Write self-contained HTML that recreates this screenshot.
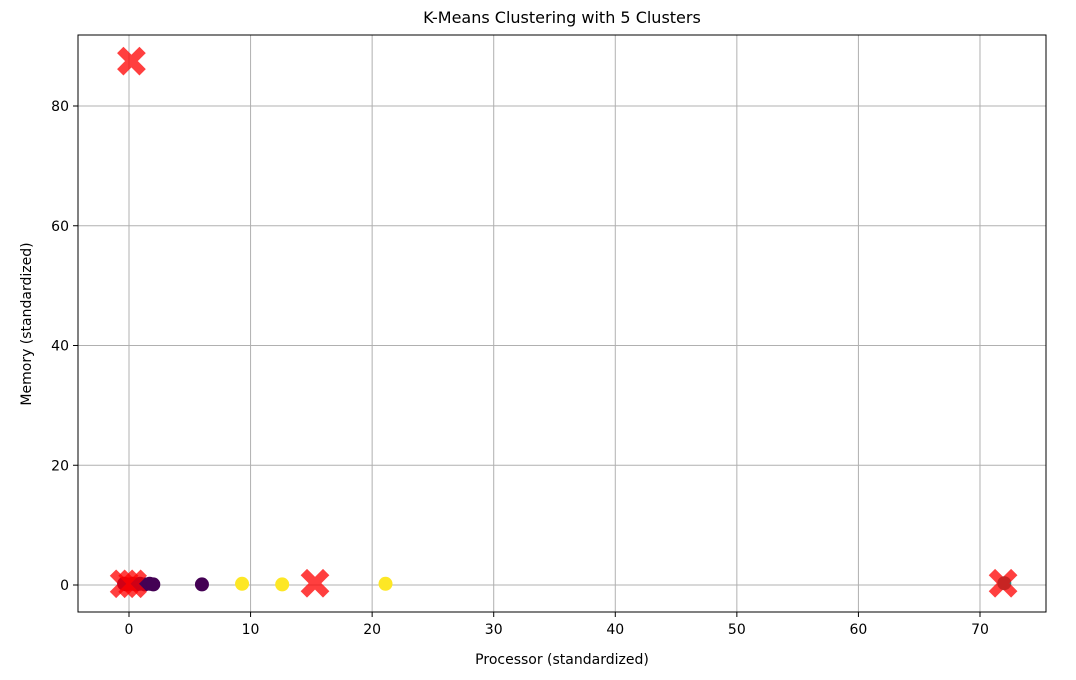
<!DOCTYPE html>
<html><head><meta charset="utf-8"><style>
body{margin:0;background:#fff;font-family:"Liberation Sans","DejaVu Sans",sans-serif;}
svg text{font-family:"DejaVu Sans","Liberation Sans",sans-serif;fill:#000;}
</style></head><body>
<svg id="chart" width="1076" height="675" xmlns="http://www.w3.org/2000/svg">
<text x="562" y="23" font-size="16" text-anchor="middle">K-Means Clustering with 5 Clusters</text>
<text x="562" y="664" font-size="14" text-anchor="middle">Processor (standardized)</text>
<text x="31" y="324" font-size="14" text-anchor="middle" transform="rotate(-90 31 324)">Memory (standardized)</text>
<g id="grid"></g><g id="pts"></g><g id="cents"></g><g id="ticks"></g>
<rect x="78" y="35" width="968" height="577" fill="none" stroke="#000" stroke-width="1"/>
</svg>
<script>
const xTicks=[0,10,20,30,40,50,60,70];
const yTicks=[0,20,40,60,80];
const pointX=[-0.4,-0.2,0.3,0.6,0.9,1.3,1.7,2.0,6.0,9.3,12.6,21.1,72];
const pointY=[0.2,0.1,0.2,0.1,0.2,0.1,0.2,0.1,0.1,0.2,0.1,0.2,0.3];
const pointCluster=[0,0,0,0,0,0,0,0,0,4,4,4,2];
const clusterColors=["#440154","#3b528b","#21918c","#5ec962","#fde725"];
const centroidX=[-0.4,0.3,15.3,71.9,0.2];
const centroidY=[0.2,0.2,0.3,0.3,87.5];
const sx=v=>129+v*12.157, sy=v=>585-v*5.9875;
const NS="http://www.w3.org/2000/svg";
function mk(t,a,p){const e=document.createElementNS(NS,t);for(const k in a)e.setAttribute(k,a[k]);p.appendChild(e);return e;}
const g=document.getElementById('grid'),tk=document.getElementById('ticks');
xTicks.forEach(v=>{const x=sx(v);
 const l=mk('line',{x1:x,x2:x,y1:35,y2:612,stroke:'#b0b0b0','stroke-width':1},g);
 
 
 mk('line',{x1:x,x2:x,y1:612,y2:617,stroke:'#000'},tk);
 const t=mk('text',{x:x,y:634,'font-size':14,'text-anchor':'middle'},tk);t.textContent=v;
 
 });
yTicks.forEach(v=>{const y=sy(v);
 const l=mk('line',{x1:78,x2:1046,y1:y,y2:y,stroke:'#b0b0b0','stroke-width':1},g);
 
 
 mk('line',{x1:73,x2:78,y1:y,y2:y,stroke:'#000'},tk);
 const t=mk('text',{x:69,y:y+5,'font-size':14,'text-anchor':'end'},tk);t.textContent=v;
 
 });
const pg=document.getElementById('pts');
pointX.forEach((v,i)=>{const c=mk('circle',{cx:sx(v),cy:sy(pointY[i]),r:7,fill:clusterColors[pointCluster[i]]},pg);
 
 });
const cg=document.getElementById('cents');
centroidX.forEach((v,i)=>{const x=sx(v),y=sy(centroidY[i]);
 const p=mk('path',{d:`M${x-8},${y-8}L${x+8},${y+8}M${x+8},${y-8}L${x-8},${y+8}`,stroke:'#ff0000','stroke-width':9,'stroke-linecap':'square',opacity:0.75},cg);
 
 });
</script>
</body></html>
